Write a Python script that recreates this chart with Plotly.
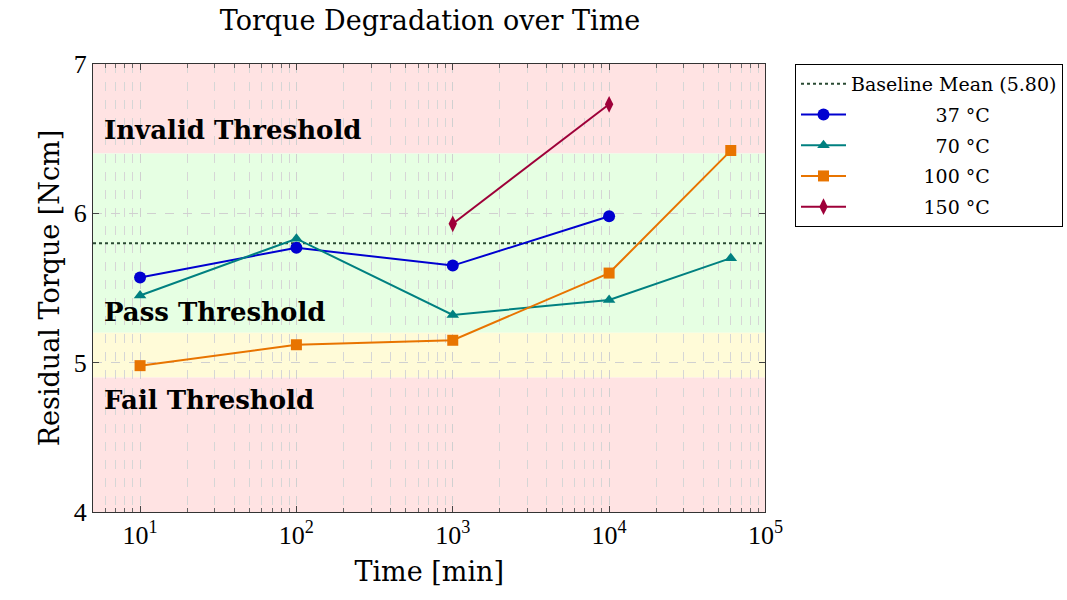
import plotly.graph_objects as go
import numpy as np

# ---- data ----
time_37 = [10, 100, 1000, 10000]
torque_37 = [5.57, 5.77, 5.65, 5.98]
time_70 = [10, 100, 1000, 10000, 60000]
torque_70 = [5.45, 5.83, 5.32, 5.42, 5.70]
time_100 = [10, 100, 1000, 10000, 60000]
torque_100 = [4.98, 5.12, 5.15, 5.60, 6.42]
time_150 = [1000, 10000]
torque_150 = [5.93, 6.73]
baseline_mean = 5.80

bands = [  # (low, high, color, label, label_y)
    (6.4, 7.0, "#ffe3e3", "Invalid Threshold", 6.56),
    (5.2, 6.4, "#e6ffe3", "Pass Threshold", 5.34),
    (4.9, 5.2, "#fffbd8", None, None),
    (4.0, 4.9, "#ffe3e3", "Fail Threshold", 4.75),
]
x_ticks = [10, 100, 1000, 10000, 100000]
x_ticktext = ["10<sup>1</sup>", "10<sup>2</sup>", "10<sup>3</sup>", "10<sup>4</sup>", "10<sup>5</sup>"]
y_ticks = [4, 5, 6, 7]

FONT = "DejaVu Serif"
TFONT = "Liberation Serif"
NB = "\u00a0"

fig = go.Figure()

for lo, hi, col, lab, ly in bands:
    fig.add_shape(type="rect", xref="paper", yref="y", x0=0, x1=1, y0=lo, y1=hi,
                  fillcolor=col, line_width=0, layer="below")
    if lab:
        fig.add_annotation(x=0.014, xref="paper", y=ly, yref="y", text="<b>" + lab + "</b>",
                           showarrow=False, xanchor="left", yanchor="middle",
                           font=dict(family=FONT, size=26, color="black"))

fig.add_trace(go.Scatter(x=[5, 100000], y=[baseline_mean, baseline_mean], mode="lines",
                         name="Baseline Mean (5.80)", legendgroup="a",
                         line=dict(color="#2a4a33", width=2, dash="dot")))

series = [
    (time_37, torque_37, "#0000d0", "circle", 12, NB * 14 + "37 °C", "b"),
    (time_70, torque_70, "#008080", "triangle-up", 11, NB * 14 + "70 °C", "c"),
    (time_100, torque_100, "#e87400", "square", 11, NB * 12 + "100 °C", "d"),
    (time_150, torque_150, "#9e0039", "diamond-tall", 12, NB * 12 + "150 °C", "e"),
]
for xs, ys, col, sym, sz, name, grp in series:
    fig.add_trace(go.Scatter(x=xs, y=ys, mode="lines+markers", name=name, legendgroup=grp,
                             line=dict(color=col, width=2),
                             marker=dict(symbol=sym, size=sz, color=col)))

minor_vals = [m * 10 ** k for k in range(0, 5) for m in range(2, 10)]

fig.update_layout(
    width=1067, height=600,
    margin=dict(l=93, r=300, t=64, b=88),
    plot_bgcolor="white", paper_bgcolor="white",
    font=dict(family=FONT, size=22, color="black"),
    title=dict(text="Torque Degradation over Time", x=0.403, xanchor="center",
               y=0.965, yanchor="middle", font=dict(family=FONT, size=27)),
    legend=dict(xref="container", yref="container", x=795 / 1067, xanchor="left",
                y=1 - 64 / 600, yanchor="top",
                bordercolor="black", borderwidth=1, bgcolor="white",
                font=dict(family=FONT, size=19), tracegroupgap=3,
                traceorder="grouped", itemwidth=45),
)
fig.update_xaxes(type="log", range=[np.log10(5), 5], tickvals=x_ticks, ticktext=x_ticktext,
                 ticks="inside", ticklen=6, tickcolor="#444", showline=True, linecolor="#333",
                 linewidth=1, mirror="allticks", showgrid=True, gridcolor="#d0d0d0",
                 griddash="dash", gridwidth=1, zeroline=False,
                 tickfont=dict(family=TFONT, size=26),
                 title=dict(text="Time [min]", font=dict(family=FONT, size=27), standoff=12),
                 minor=dict(tickvals=minor_vals, ticks="inside", ticklen=4, tickcolor="#666",
                            showgrid=True, gridcolor="#d6d6d6", griddash="dash"))
fig.update_yaxes(range=[4, 7], tickvals=y_ticks, ticks="inside", ticklen=6, tickcolor="#444",
                 showline=True, linecolor="#333", linewidth=1, mirror="allticks",
                 showgrid=True, gridcolor="#d0d0d0", griddash="dash", zeroline=False,
                 tickfont=dict(family=TFONT, size=26),
                 title=dict(text="Residual Torque [Ncm]", font=dict(family=FONT, size=27), standoff=6))

fig.write_html("out.html")
